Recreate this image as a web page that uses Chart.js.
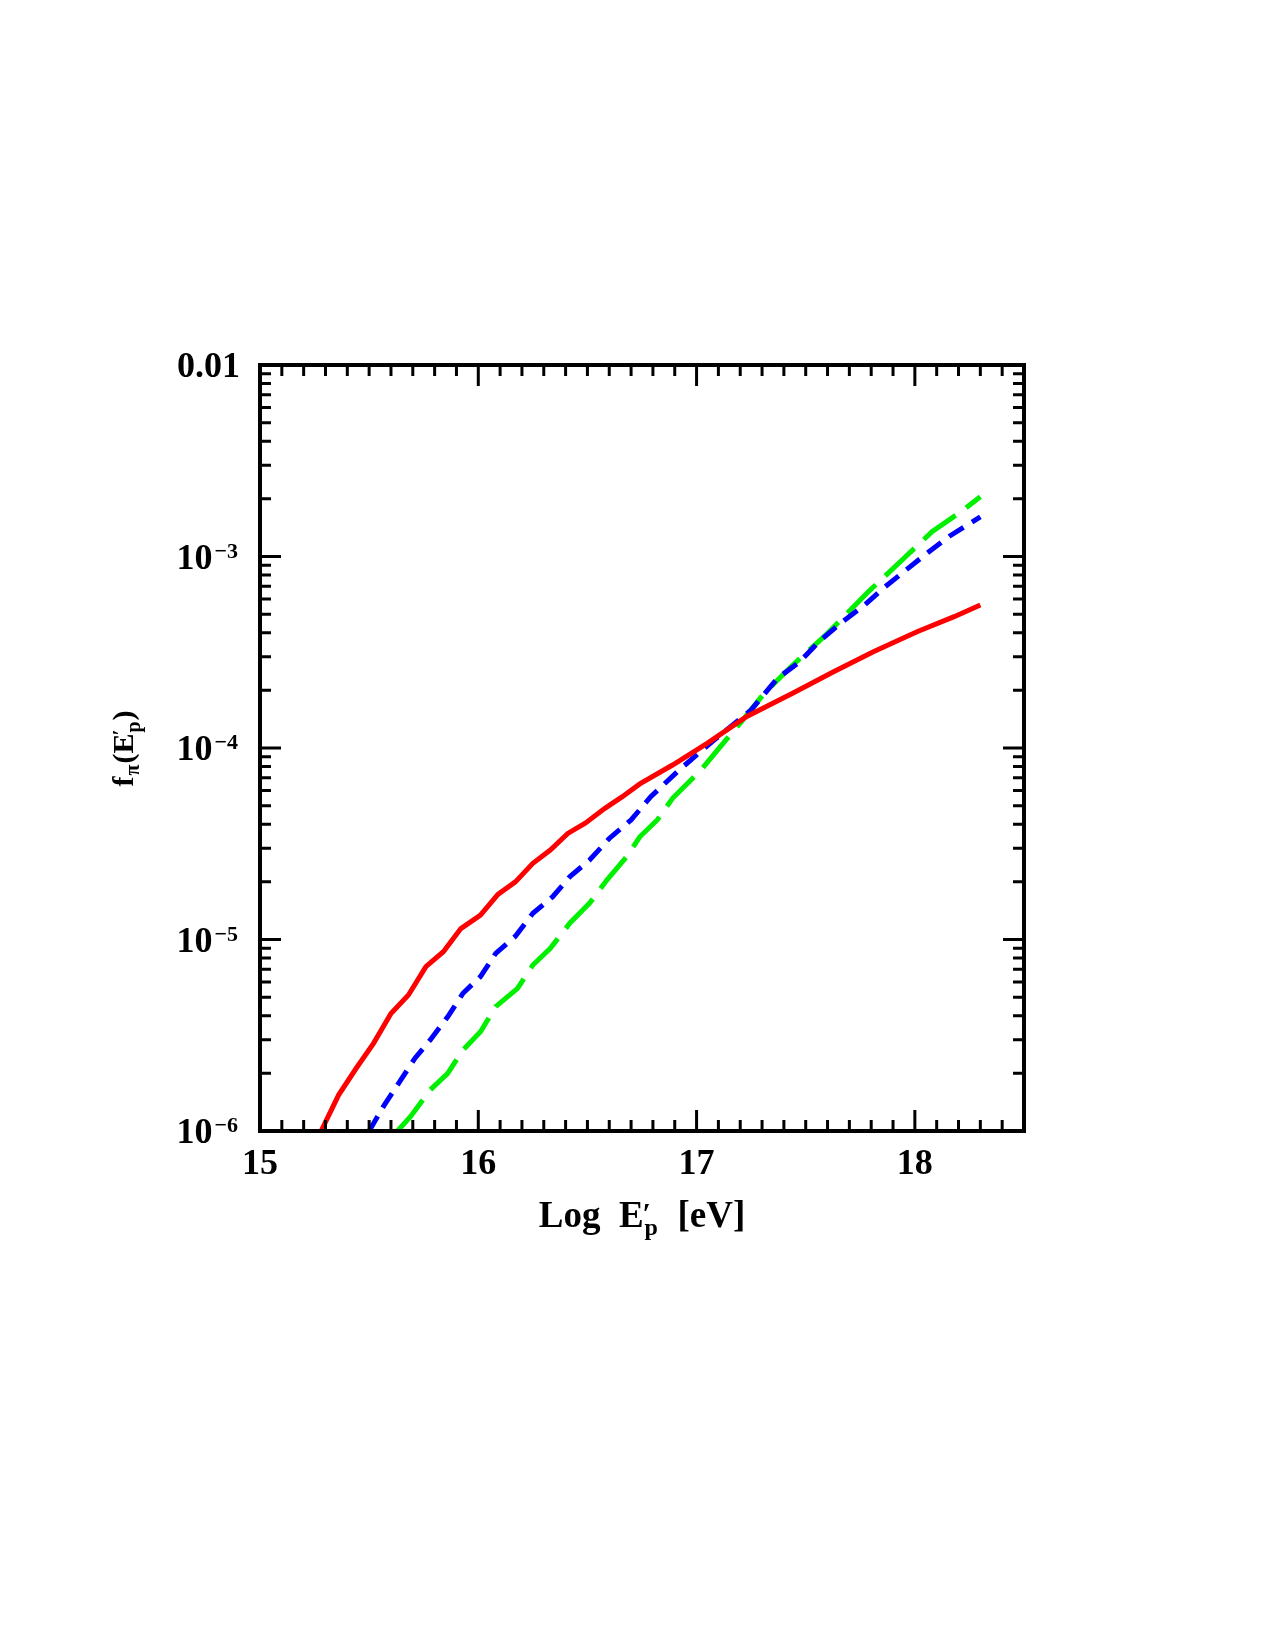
<!DOCTYPE html>
<html>
<head>
<meta charset="utf-8">
<script src="https://cdn.jsdelivr.net/npm/chart.js@4.4.1/dist/chart.umd.min.js"></script>
<style>
  html, body { margin: 0; padding: 0; background: #fff; }
  canvas { display: block; }
</style>
</head>
<body>
<canvas id="c" width="1275" height="1650"></canvas>
<script>
// ---- data ----
const redX = [15.28, 15.36, 15.44, 15.52, 15.60, 15.68, 15.76, 15.84, 15.92, 16.01, 16.09, 16.17, 16.25, 16.33, 16.41, 16.49, 16.58, 16.66, 16.74, 16.89, 17.05, 17.23, 17.44, 17.63, 17.81, 18.01, 18.18, 18.30];
const redY = [1.00e-6, 1.54e-6, 2.12e-6, 2.87e-6, 4.11e-6, 5.13e-6, 7.21e-6, 8.63e-6, 1.14e-5, 1.34e-5, 1.72e-5, 2.00e-5, 2.50e-5, 2.93e-5, 3.58e-5, 4.05e-5, 4.84e-5, 5.57e-5, 6.49e-5, 8.15e-5, 1.06e-4, 1.46e-4, 1.93e-4, 2.51e-4, 3.18e-4, 4.05e-4, 4.85e-4, 5.58e-4];

const blueX = [15.50, 15.57, 15.64, 15.71, 15.78, 15.86, 15.93, 16.01, 16.08, 16.17, 16.25, 16.34, 16.42, 16.51, 16.60, 16.70, 16.79, 16.92, 17.08, 17.25, 17.37, 17.47, 17.56, 17.66, 17.77, 17.86, 17.96, 18.06, 18.16, 18.30];
const blueY = [1.00e-6, 1.37e-6, 1.81e-6, 2.40e-6, 2.99e-6, 3.95e-6, 5.24e-6, 6.40e-6, 8.47e-6, 1.04e-5, 1.37e-5, 1.67e-5, 2.13e-5, 2.60e-5, 3.37e-5, 4.21e-5, 5.57e-5, 7.67e-5, 1.10e-4, 1.58e-4, 2.31e-4, 2.80e-4, 3.59e-4, 4.48e-4, 5.58e-4, 6.90e-4, 8.51e-4, 1.05e-3, 1.28e-3, 1.61e-3];

const greenX = [15.63, 15.69, 15.78, 15.86, 15.93, 16.01, 16.08, 16.18, 16.25, 16.33, 16.42, 16.51, 16.59, 16.68, 16.74, 16.82, 16.89, 17.02, 17.11, 17.20, 17.31, 17.43, 17.60, 17.78, 17.95, 18.08, 18.21, 18.30];
const greenY = [1.00e-6, 1.19e-6, 1.64e-6, 2.00e-6, 2.65e-6, 3.30e-6, 4.46e-6, 5.56e-6, 7.36e-6, 8.99e-6, 1.22e-5, 1.55e-5, 2.05e-5, 2.71e-5, 3.44e-5, 4.21e-5, 5.46e-5, 7.67e-5, 1.02e-4, 1.35e-4, 1.93e-4, 2.64e-4, 3.97e-4, 6.43e-4, 9.79e-4, 1.35e-3, 1.71e-3, 2.05e-3];

const xTickValues = [15, 16, 17, 18];
const xTickLabels = ['15', '16', '17', '18'];
const yTickValues = [1e-2, 1e-3, 1e-4, 1e-5, 1e-6];
const yTickBase = ['0.01', '10', '10', '10', '10'];
const yTickExp = ['', '\u22123', '\u22124', '\u22125', '\u22126'];

const X_MIN = 15, X_MAX = 18.5, Y_MIN = 1e-6, Y_MAX = 1e-2;

function pts(xs, ys) { return xs.map((v, i) => ({ x: v, y: ys[i] })); }

const FONT = '"Liberation Serif", "DejaVu Serif", serif';

const frameAxes = {
  id: 'frameAxes',
  afterDatasetsDraw(chart) {
    const { ctx, chartArea: a, scales: { x, y } } = chart;
    ctx.save();
    ctx.strokeStyle = '#000';
    ctx.fillStyle = '#000';
    ctx.lineCap = 'butt';
    // x ticks (bottom and top, inward)
    ctx.lineWidth = 3;
    ctx.beginPath();
    for (let i = Math.round(X_MIN * 10) + 1; i < Math.round(X_MAX * 10); i++) {
      const px = x.getPixelForValue(i / 10);
      const len = (i % 10 === 0) ? 21 : 11;
      ctx.moveTo(px, a.bottom); ctx.lineTo(px, a.bottom - len);
      ctx.moveTo(px, a.top); ctx.lineTo(px, a.top + len);
    }
    // y ticks (left and right, inward)
    for (let d = -6; d <= -3; d++) {
      for (let m = 1; m <= 9; m++) {
        const v = m * Math.pow(10, d);
        if (v <= Y_MIN) continue;
        const py = y.getPixelForValue(v);
        const len = (m === 1) ? 21 : 11;
        ctx.moveTo(a.left, py); ctx.lineTo(a.left + len, py);
        ctx.moveTo(a.right, py); ctx.lineTo(a.right - len, py);
      }
    }
    ctx.stroke();
    // frame
    ctx.lineWidth = 4;
    ctx.strokeRect(a.left, a.top, a.right - a.left, a.bottom - a.top);

    // x tick labels
    ctx.font = 'bold 36px ' + FONT;
    ctx.textAlign = 'center';
    ctx.textBaseline = 'alphabetic';
    xTickValues.forEach((v, i) => {
      ctx.fillText(xTickLabels[i], x.getPixelForValue(v), a.bottom + 43);
    });

    // y tick labels
    const rightEdge = a.left - 22;
    yTickValues.forEach((v, i) => {
      const py = y.getPixelForValue(v);
      ctx.textAlign = 'right';
      if (yTickExp[i]) {
        ctx.font = 'bold 22px ' + FONT;
        const ew = ctx.measureText(yTickExp[i]).width;
        ctx.fillText(yTickExp[i], rightEdge, py + 1);
        ctx.font = 'bold 36px ' + FONT;
        ctx.fillText(yTickBase[i], rightEdge - ew - 2, py + 12);
      } else {
        ctx.font = 'bold 36px ' + FONT;
        ctx.fillText(yTickBase[i], rightEdge + 2, py + 12);
      }
    });

    // x axis title: Log E'_p [eV]
    {
      const big = 'bold 37px ' + FONT, small = 'bold 24px ' + FONT;
      const part1 = 'Log  E', part2 = '  [eV]';
      ctx.font = big; const w1 = ctx.measureText(part1).width; const w3 = ctx.measureText(part2).width;
      ctx.font = small; const wp = ctx.measureText('p').width;
      const total = w1 + wp + 2 + w3;
      const cx = (a.left + a.right) / 2;
      let sx = cx - total / 2;
      const base = a.bottom + 96;
      ctx.textAlign = 'left';
      ctx.font = big; ctx.fillText(part1, sx, base); sx += w1;
      ctx.font = 'bold 30px ' + FONT; ctx.fillText('\u2032', sx - 1, base - 4);
      ctx.font = small; ctx.fillText('p', sx + 1, base + 8); sx += wp + 2;
      ctx.font = big; ctx.fillText(part2, sx, base);
    }

    // y axis title: f_pi(E'_p)
    {
      const big = 'bold 30px ' + FONT, small = 'bold 20px ' + FONT;
      ctx.save();
      ctx.translate(a.left - 127, (a.top + a.bottom) / 2);
      ctx.rotate(-Math.PI / 2);
      ctx.textAlign = 'left';
      const pieces = [
        ['f', big, 0], ['\u03c0', small, 6], ['(E', big, 0], ['p', small, 7], [')', big, 0]
      ];
      let total = 0;
      pieces.forEach(p => { ctx.font = p[1]; total += ctx.measureText(p[0]).width + 1; });
      let sx = -total / 2;
      pieces.forEach(p => {
        ctx.font = p[1];
        ctx.fillText(p[0], sx, p[2]);
        if (p[0] === '(E') {
          const wE = ctx.measureText(p[0]).width;
          ctx.font = 'bold 22px ' + FONT;
          ctx.fillText('\u2032', sx + wE - 2, -6);
          ctx.font = p[1];
        }
        sx += ctx.measureText(p[0]).width + 1;
      });
      ctx.restore();
    }
    ctx.restore();
  }
};

const bgPlugin = {
  id: 'bg',
  beforeDraw(chart) {
    const c = chart.ctx; c.save(); c.fillStyle = '#fff';
    c.fillRect(0, 0, chart.width, chart.height); c.restore();
  }
};

new Chart(document.getElementById('c'), {
  type: 'line',
  data: {
    datasets: [
      { data: pts(redX, redY), borderColor: '#ff0000', borderWidth: 5, pointRadius: 0, tension: 0, fill: false },
      { data: pts(blueX, blueY), borderColor: '#0000ff', borderWidth: 5, borderDash: [17, 10], pointRadius: 0, tension: 0, fill: false },
      { data: pts(greenX, greenY), borderColor: '#00f000', borderWidth: 5, borderDash: [40, 13], pointRadius: 0, tension: 0, fill: false }
    ]
  },
  options: {
    responsive: false,
    animation: false,
    events: [],
    layout: { padding: { left: 260, top: 365, right: 251, bottom: 519 } },
    plugins: { legend: { display: false }, tooltip: { enabled: false }, title: { display: false } },
    scales: {
      x: { type: 'linear', min: X_MIN, max: X_MAX, display: false },
      y: { type: 'logarithmic', min: Y_MIN, max: Y_MAX, display: false }
    }
  },
  plugins: [bgPlugin, frameAxes]
});
</script>
</body>
</html>
